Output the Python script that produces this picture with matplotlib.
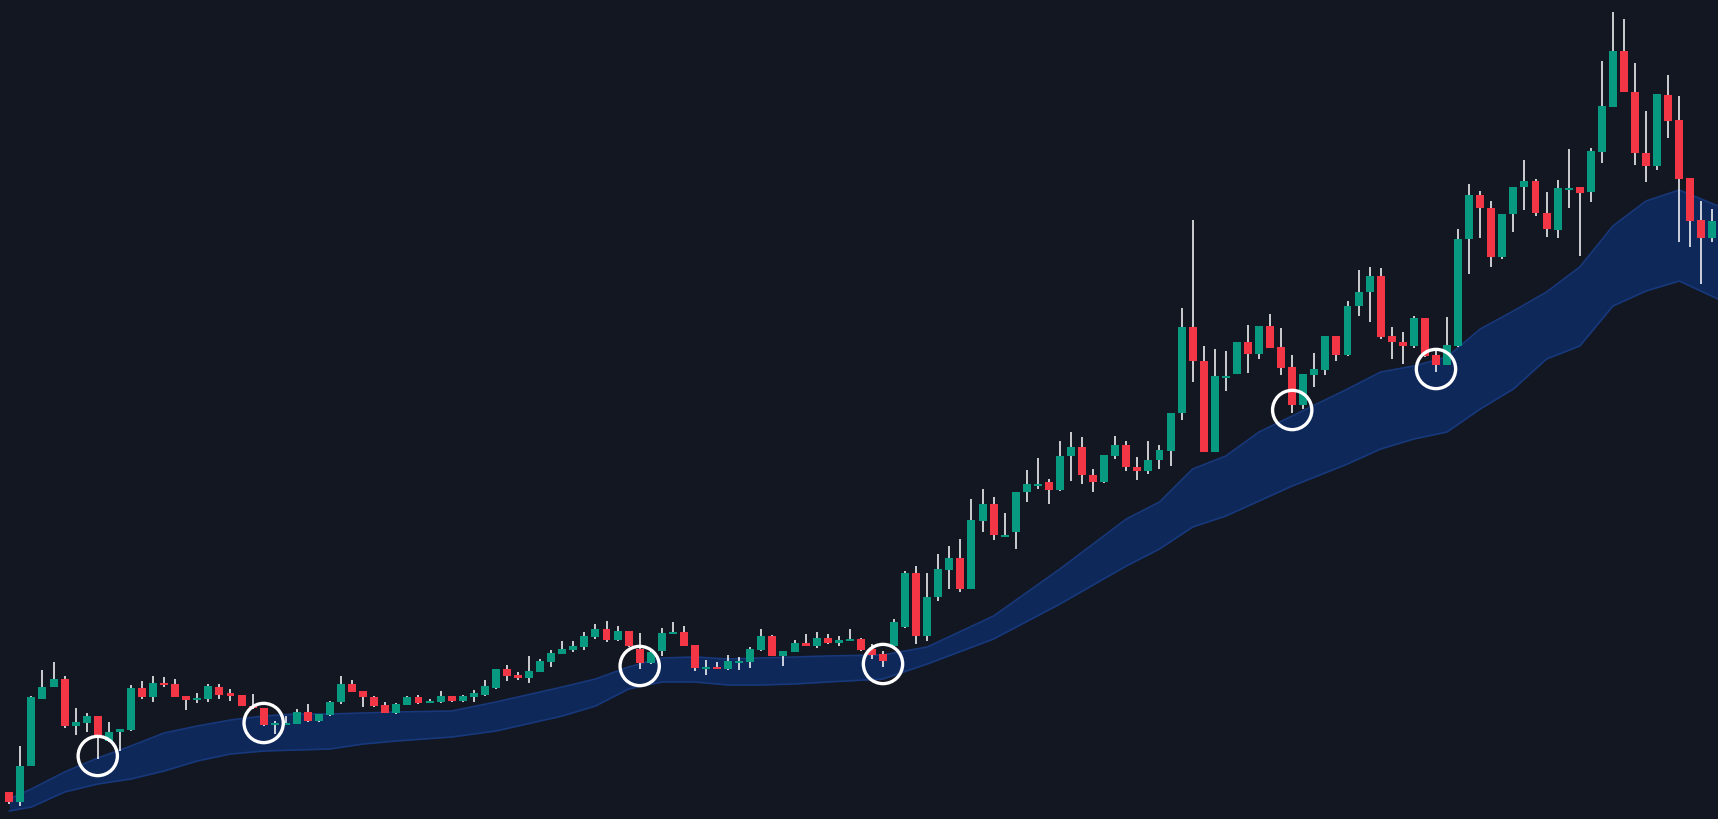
import matplotlib
matplotlib.use("Agg")
import matplotlib.pyplot as plt
import numpy as np

# Candle data (screen-level units, larger = lower on chart)
opens = [793,803,767,700,688,680,727,724,717,742,733,731,689,698,684,685,697,700,700,688,
         694,696,707,709,725,725,725,713,722,716,703,685,692,698,706,714,706,698,703,703,
         697,702,698,696,689,670,676,679,673,663,655,651,648,638,630,641,632,650,664,652,
         634,633,646,669,668,670,662,663,651,637,657,653,644,647,639,644,641,640,650,655,
         647,628,574,637,598,571,559,590,522,505,536,533,493,485,483,491,457,448,476,483,
         457,446,468,472,461,452,414,328,362,453,377,375,343,355,327,348,368,406,376,371,
         337,356,307,293,277,337,343,347,319,356,366,347,240,196,209,258,215,188,182,214,
         231,189,188,193,153,108,52,93,154,167,96,121,179,221,239]
highs = [793,747,697,671,663,677,709,714,717,723,730,686,682,677,678,680,697,694,685,685,
         690,696,695,709,722,717,710,705,715,702,677,681,692,697,703,704,697,696,700,692,
         697,696,691,681,670,666,673,657,660,651,642,642,633,625,622,627,632,634,652,629,
         623,627,646,661,663,656,658,648,630,636,652,641,635,633,635,637,630,639,645,652,
         620,572,567,574,555,547,540,500,490,498,514,493,471,459,480,442,433,438,470,456,
         437,442,458,442,446,414,309,221,347,350,352,343,326,327,315,329,356,375,354,337,
         337,302,271,268,269,328,333,317,319,350,318,230,185,192,202,215,188,161,180,193,
         181,150,188,149,62,13,20,64,112,95,76,97,179,202,210]
lows = [805,807,767,700,688,729,736,733,760,743,752,732,700,703,688,698,711,704,703,700,
        702,707,710,727,735,726,725,723,723,717,705,693,708,708,714,715,706,705,704,704,
        703,703,703,697,690,682,681,684,673,668,655,653,651,640,643,642,648,670,665,657,
        635,647,672,676,670,671,671,669,652,657,667,653,647,649,645,647,642,652,660,668,
        650,629,645,642,602,590,593,590,533,541,537,550,503,490,505,492,482,485,493,484,
        460,472,481,475,470,467,421,383,453,453,392,375,374,360,349,376,414,410,388,376,
        362,357,317,323,340,360,365,349,358,373,366,348,275,239,268,260,233,211,217,238,
        239,209,257,203,164,108,52,166,183,171,139,243,248,285,243]
closes = [803,767,698,688,680,727,723,717,739,733,730,689,698,684,686,698,701,699,687,696,
          697,707,709,726,724,724,713,722,715,703,685,693,698,707,714,705,698,704,702,697,
          702,697,694,687,670,677,679,672,662,654,650,647,637,630,641,632,647,664,653,634,
          633,647,669,668,669,662,662,650,637,657,652,644,647,639,644,641,640,651,656,662,
          623,574,637,598,570,559,590,521,505,536,536,493,485,485,491,457,448,476,483,456,
          446,468,472,461,451,414,328,362,453,377,377,343,355,327,349,369,406,375,370,337,
          356,307,293,277,338,343,347,319,357,366,346,240,196,209,258,215,188,182,214,230,
          189,189,194,152,107,52,93,154,167,95,122,180,222,239,222]

# Moving band
band_x = [0,2,5,8,11,14,17,20,23,26,29,32,35,40,44,50,53,56,59,62,65,68,71,74,79,83,89,95,
          101,104,107,110,113,116,121,124,127,130,133,136,139,142,145,148,151,154.5]
band_upper = [800,790,773,759,747,734,727,721,717,715,715,714,713,712,703,688,680,668,659,658,
              660,659,658,657,656,648,617,570,520,503,470,457,433,417,390,373,367,358,330,312,
              293,268,227,202,191,207]
band_lower = [812,808,793,785,780,772,762,755,752,751,750,745,742,738,732,717,707,690,683,683,
              686,686,685,683,680,665,640,605,567,550,528,517,502,487,465,450,440,433,410,390,
              360,347,307,292,282,300]

# Signal candles (circled)
signal_idx = [8, 23, 57, 79, 116, 129]

BG = "#131722"
GREEN = "#089981"
RED = "#f23645"

fig = plt.figure(figsize=(17.18, 8.2), dpi=100)
fig.patch.set_facecolor(BG)
ax = fig.add_axes([0, 0, 1, 1])
ax.set_facecolor(BG)

ax.fill_between(band_x, band_upper, band_lower, color="#0f2a5e", alpha=0.95, zorder=1, linewidth=0)
ax.plot(band_x, band_upper, color="#17387a", lw=1.2, zorder=1.5)
ax.plot(band_x, band_lower, color="#17387a", lw=1.2, zorder=1.5)

n = len(opens)
x = np.arange(n)
o = np.array(opens, float); c = np.array(closes, float)
h = np.array(highs, float); l = np.array(lows, float)
up = c <= o
ax.vlines(x, h, l, color="white", lw=1.1, zorder=2)
bottom = np.minimum(o, c)
height = np.maximum(np.abs(o - c), 1.8)
cols = [GREEN if u else RED for u in up]
ax.bar(x, height, bottom=bottom, width=0.72, color=cols, zorder=3, linewidth=0)

ax.scatter([x[i] for i in signal_idx], [l[i] - 3 for i in signal_idx], s=800,
           facecolors="none", edgecolors="white", linewidths=2.4, zorder=4)

ax.set_xlim(-0.84, 154.5)
ax.set_ylim(820, 0)
ax.axis("off")
fig.savefig("out.png", dpi=100, facecolor=BG)
